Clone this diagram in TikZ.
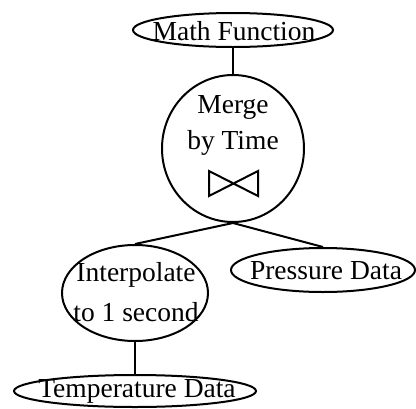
\documentclass[tikz,border=0pt]{standalone}
\usepackage{fontspec}
\setmainfont{Liberation Serif}
\usetikzlibrary{shapes.geometric}
\begin{document}
\begin{tikzpicture}[x=1pt,y=-1pt,
  oval/.style={draw, ellipse, line width=2pt, inner sep=0pt},
  lbl/.style={font=\fontsize{27.5}{30}\selectfont, inner sep=0pt},
  conn/.style={line width=2pt}]
\useasboundingbox (0,0) rectangle (416,408);
\node[oval, minimum width=200, minimum height=34] (mf) at (233,30) {};
\node[lbl] (mft) at (234,31) {Math Function};
\node[oval, minimum width=142, minimum height=147] (mg) at (233,148.5) {};
\node[lbl] (mgt1) at (233,107) {Merge};
\node[lbl] (mgt2) at (233,143) {by Time};
\coordinate (b1) at (209,171);
\coordinate (b2) at (258,196);
\coordinate (b3) at (258,171);
\coordinate (b4) at (209,196);
\draw[line width=2pt, line join=miter] (b1) -- (b2) -- (b3) -- (b4) -- cycle;
\node[oval, minimum width=146, minimum height=96] (ip) at (135,293) {};
\node[lbl] (ipt1) at (136,275) {Interpolate};
\node[lbl] (ipt2) at (136,312) {to 1 second};
\node[oval, minimum width=184, minimum height=44] (pd) at (323,270) {};
\node[lbl] (pdt) at (326,271) {Pressure Data};
\node[oval, minimum width=242, minimum height=32] (td) at (135,391) {};
\node[lbl] (tdt) at (137,391) {Temperature Data};
\draw[conn] (mf.south) -- (mg.north);
\draw[conn] (mg.south) -- (ip.north);
\draw[conn] (mg.south) -- (pd.north);
\draw[conn] (ip.south) -- (td.north);
\end{tikzpicture}
\end{document}
